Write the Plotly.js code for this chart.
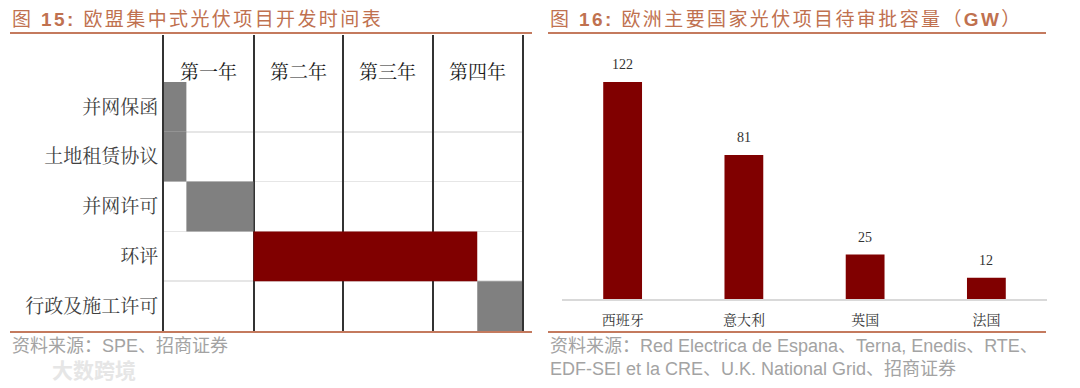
<!DOCTYPE html>
<html><head><meta charset="utf-8">
<script src="https://cdn.plot.ly/plotly-3.0.1.min.js"></script>
<style>
html,body{margin:0;padding:0;background:#fff}
#chart{width:1080px;height:388px}
#chart g.annotation[data-index="0"] text,
#chart g.annotation[data-index="1"] text{letter-spacing:2.4px}
</style>
</head><body><div id="chart"></div>
<script>
// ---- data: left chart (timeline) ----
const tasks = ['并网保函', '土地租赁协议', '并网许可', '环评', '行政及施工许可'];
const startYear = [0, 0, 0.25, 1, 3.5];
const durationYear = [0.25, 0.25, 0.75, 2.5, 0.5];
const years = ['第一年', '第二年', '第三年', '第四年'];
// ---- data: right chart ----
const countries = ['西班牙', '意大利', '英国', '法国'];
const pendingGW = [122, 81, 25, 12];

const RED = '#800000', GRAY = '#808080';
const TITLE_C = '#c0714f', LINE_C = '#c47a5e', SRC_C = '#a3a3a3';
const SERIF = 'Liberation Serif, Noto Serif CJK SC, Noto Sans CJK SC, serif';
const SANS = 'Liberation Sans, Noto Sans CJK SC, sans-serif';
const W = 1080, H = 388;
const px = x => x / W, py = y => 1 - y / H;
const LS = 2.4; // letter spacing applied to titles via CSS
const spacingShift = t => t.replace(/<[^>]+>/g, '').length * LS / 2;

const nRows = tasks.length;
const rowY = tasks.map((t, i) => nRows - i - 0.5);
const taskColors = tasks.map(t => t === '环评' ? RED : GRAY);

const traces = [
  {
    type: 'bar', orientation: 'h', xaxis: 'x', yaxis: 'y',
    y: rowY, x: durationYear, base: startYear, width: 1,
    marker: {color: taskColors, line: {width: 0}},
    hoverinfo: 'skip', showlegend: false
  },
  {
    type: 'bar', xaxis: 'x2', yaxis: 'y2',
    x: countries, y: pendingGW, width: 0.32,
    marker: {color: RED, line: {width: 0}},
    hoverinfo: 'skip', showlegend: false
  }
];

const title1 = '图 <b>15:</b> 欧盟集中式光伏项目开发时间表';
const title2 = '图 <b>16:</b> 欧洲主要国家光伏项目待审批容量（<b>GW</b>）';
const headerY = 5.2;
const annotations = [
  {xref: 'paper', yref: 'paper', x: px(10), y: py(19), xanchor: 'left', yanchor: 'middle', showarrow: false,
   xshift: spacingShift(title1), text: title1, font: {family: SANS, size: 19, color: TITLE_C}},
  {xref: 'paper', yref: 'paper', x: px(548), y: py(19), xanchor: 'left', yanchor: 'middle', showarrow: false,
   xshift: spacingShift(title2), text: title2, font: {family: SANS, size: 19, color: TITLE_C}},
  {xref: 'paper', yref: 'paper', x: px(10), y: py(346), xanchor: 'left', yanchor: 'middle', showarrow: false,
   text: '资料来源：SPE、招商证券', font: {family: SANS, size: 18, color: SRC_C}},
  {xref: 'paper', yref: 'paper', x: px(548), y: py(346), xanchor: 'left', yanchor: 'middle', showarrow: false,
   text: '资料来源：Red Electrica de Espana、Terna, Enedis、RTE、', font: {family: SANS, size: 18, color: SRC_C}},
  {xref: 'paper', yref: 'paper', x: px(548), y: py(369), xanchor: 'left', yanchor: 'middle', showarrow: false,
   text: 'EDF-SEI et la CRE、U.K. National Grid、招商证券', font: {family: SANS, size: 18, color: SRC_C}},
  {xref: 'paper', yref: 'paper', x: px(50), y: py(370), xanchor: 'left', yanchor: 'middle', showarrow: false,
   text: '<b>大数跨境</b>', font: {family: SANS, size: 21, color: '#e6e6e6'}}
];
years.forEach((yr, i) => annotations.push({
  xref: 'x', yref: 'y', x: i + 0.5, y: headerY, showarrow: false,
  text: yr, font: {family: SERIF, size: 19, color: '#1a1a1a'}
}));
countries.forEach((c, i) => annotations.push({
  xref: 'x2', yref: 'y2', x: c, y: pendingGW[i], yanchor: 'bottom', yshift: 8, showarrow: false,
  text: String(pendingGW[i]), font: {family: SERIF, size: 14, color: '#333'}
}));

const shapes = [
  [10, 532, 33], [548, 1046, 33], [10, 532, 332], [548, 1046, 332]
].map(([x0, x1, y]) => ({type: 'line', xref: 'paper', yref: 'paper',
  x0: px(x0), x1: px(x1), y0: py(y), y1: py(y), line: {color: LINE_C, width: 2}}));

const layout = {
  width: W, height: H, margin: {l: 0, r: 0, t: 0, b: 0},
  paper_bgcolor: '#fff', plot_bgcolor: '#fff', showlegend: false,
  xaxis: {
    domain: [px(164), px(522)], range: [0, years.length], anchor: 'y',
    tickmode: 'linear', tick0: 0, dtick: 1, showticklabels: false, ticks: '',
    showgrid: true, gridcolor: '#333', gridwidth: 2, zeroline: false, showline: false, fixedrange: true
  },
  yaxis: {
    domain: [py(331), py(35)], range: [0, 5.944], anchor: 'x',
    tickmode: 'array', tickvals: rowY, ticktext: tasks, ticks: '',
    tickfont: {family: SERIF, size: 19, color: '#404040'},
    showgrid: false, zeroline: false,
    minor: {tickmode: 'array', tickvals: [1, 2, 3, 4], showgrid: true, gridcolor: '#e6e6e6', gridwidth: 1.5, ticks: ''},
    showline: true, mirror: true, linecolor: '#333', linewidth: 2, fixedrange: true
  },
  xaxis2: {
    domain: [px(562), px(1047)], anchor: 'y2', type: 'category', range: [-0.5, countries.length - 0.5],
    showline: true, linecolor: '#d9d9d9', linewidth: 1.5, showgrid: false, zeroline: false,
    ticks: 'outside', ticklen: 8, tickcolor: 'rgba(0,0,0,0)',
    tickfont: {family: SERIF, size: 14, color: '#333'}, fixedrange: true
  },
  yaxis2: {
    domain: [py(299), py(40)], anchor: 'x2', range: [0, 145.6],
    visible: false, showgrid: false, zeroline: false, fixedrange: true
  },
  annotations, shapes
};

Plotly.newPlot('chart', traces, layout, {staticPlot: true, displayModeBar: false});
</script></body></html>
